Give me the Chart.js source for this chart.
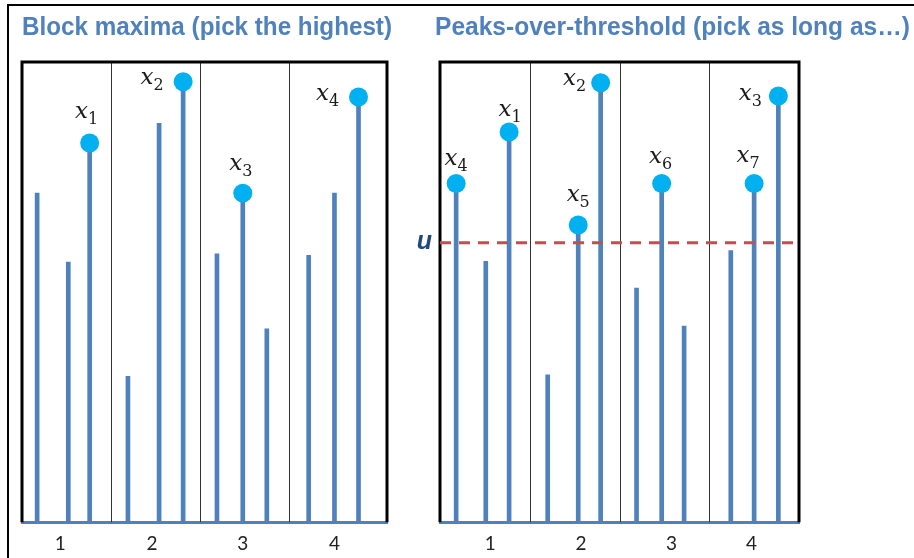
<!DOCTYPE html>
<html>
<head>
<meta charset="utf-8">
<script src="https://cdn.jsdelivr.net/npm/chart.js@4.4.1/dist/chart.umd.min.js"></script>
<style>
  html, body { margin: 0; padding: 0; background: #fff; }
  body { width: 914px; height: 558px; position: relative; overflow: hidden; }
  #frame {
    position: absolute; left: 7px; top: 4px; width: 920px; height: 600px;
    border-top: 2px solid #000; border-left: 2px solid #000;
  }
  .wrap { position: absolute; top: 0; height: 568px; }
  #leftWrap { left: 0; width: 400px; }
  #rightWrap { left: 400px; width: 514px; }
</style>
</head>
<body>
<div id="frame"></div>
<div class="wrap" id="leftWrap"><canvas id="blockChart" width="400" height="568"></canvas></div>
<div class="wrap" id="rightWrap"><canvas id="potChart" width="514" height="568"></canvas></div>
<script>
// Blocks shared by both panels
const blockLabels = ["1", "2", "3", "4"];
const blockEdges = [1, 2, 3];

// Block maxima panel
const bmX = [0.17, 0.52, 0.76, 1.19, 1.54, 1.81, 2.19, 2.48, 2.75, 3.22, 3.51, 3.78];
const bmValues = [71.5, 56.5, 82.4, 31.7, 86.7, 95.7, 58.3, 71.5, 42.0, 58.0, 71.5, 92.4];
const bmPicked = [2, 5, 7, 11];
const bmNames = ["1", "2", "3", "4"];
const bmTickPos = [0.43, 1.46, 2.48, 3.51];

// Peaks-over-threshold panel
const potX = [0.18, 0.51, 0.77, 1.2, 1.54, 1.79, 2.19, 2.47, 2.72, 3.24, 3.5, 3.77];
const potValues = [73.6, 56.7, 84.8, 32.0, 64.6, 95.5, 50.9, 73.6, 42.6, 59.0, 73.6, 92.6];
const potPicked = [0, 2, 4, 5, 7, 10, 11];
const potNames = ["4", "1", "5", "2", "6", "7", "3"];
const potTickPos = [0.56, 1.57, 2.58, 3.47];
const threshold = 60.7;

// label offsets (px) from each picked point
const bmLabelOffsets = [[-3, -28], [-31, -1], [-2, -27], [-31, 0]];
const potLabelOffsets = [[0, -22], [1, -19], [0, -27], [-26, -1], [-1, -24], [-6, -25], [-28, 1]];

const stemBlue = "#4f81bd";
const dotBlue = "#00b0f0";

function drawSubLabel(ctx, cx, cy, sub) {
  ctx.save();
  ctx.fillStyle = "#1a1a1a";
  ctx.textBaseline = "alphabetic";
  ctx.textAlign = "left";
  ctx.font = "italic 23px 'DejaVu Serif'";
  const wx = ctx.measureText("x").width;
  ctx.font = "16px 'DejaVu Serif'";
  const ws = ctx.measureText(sub).width;
  const left = cx - (wx + ws) / 2;
  const base = cy + 3.4;
  ctx.font = "italic 23px 'DejaVu Serif'";
  ctx.fillText("x", left, base);
  ctx.font = "16px 'DejaVu Serif'";
  ctx.fillText(sub, left + wx, base + 6);
  ctx.restore();
}

// panel decorations: frame, block separators, title, point labels
const panelPlugin = {
  id: "panel",
  beforeDatasetsDraw(chart, args, opts) {
    const { ctx, chartArea: a, scales } = chart;
    ctx.save();
    ctx.strokeStyle = "#333";
    ctx.lineWidth = 1;
    blockEdges.forEach((b) => {
      const px = Math.round(scales.x.getPixelForValue(b)) + 0.5;
      ctx.beginPath();
      ctx.moveTo(px, a.top);
      ctx.lineTo(px, a.bottom);
      ctx.stroke();
    });
    ctx.strokeStyle = "#000";
    ctx.lineWidth = 3;
    ctx.beginPath();
    ctx.moveTo(a.left, a.bottom);
    ctx.lineTo(a.left, a.top);
    ctx.lineTo(a.right, a.top);
    ctx.lineTo(a.right, a.bottom);
    ctx.stroke();
    ctx.restore();
  },
  afterDatasetsDraw(chart, args, opts) {
    const { ctx, chartArea: a, scales } = chart;
    // title
    ctx.save();
    ctx.font = "bold 26px 'Liberation Sans'";
    ctx.textBaseline = "alphabetic";
    const w = ctx.measureText(opts.title).width;
    ctx.translate(opts.titleLeft, 35);
    ctx.scale((opts.titleRight - opts.titleLeft) / w, 1);
    ctx.fillStyle = "#4f81bd";
    ctx.fillText(opts.title, 0, 0);
    ctx.restore();
    // point labels
    const meta = chart.getDatasetMeta(1);
    meta.data.forEach((pt, i) => {
      const off = opts.offsets[i];
      drawSubLabel(ctx, pt.x + off[0], pt.y + off[1], opts.names[i]);
    });
    // threshold label
    if (opts.threshold !== undefined) {
      const py = scales.y.getPixelForValue(opts.threshold);
      ctx.save();
      ctx.font = "bold italic 25px 'Liberation Sans'";
      ctx.fillStyle = "#1f497d";
      ctx.textAlign = "right";
      ctx.textBaseline = "middle";
      ctx.fillText("u", a.left - 8, py - 1);
      ctx.restore();
    }
  },
};

function makePanel(canvasId, xs, vals, picked, names, tickPos, xMax, padding, panelOpts, extra) {
  const datasets = [
    {
      type: "bar",
      data: xs.map((x, i) => ({ x: x, y: vals[i] })),
      backgroundColor: stemBlue,
      borderWidth: 0,
      barThickness: 4,
      order: 3,
    },
    {
      type: "line",
      data: picked.map((i) => ({ x: xs[i], y: vals[i] })),
      showLine: false,
      pointRadius: 9.5,
      pointHoverRadius: 9.5,
      pointBackgroundColor: dotBlue,
      pointBorderWidth: 0,
      order: 0,
    },
  ].concat(extra || []);

  return new Chart(document.getElementById(canvasId).getContext("2d"), {
    type: "bar",
    data: { datasets: datasets },
    plugins: [panelPlugin],
    options: {
      responsive: false,
      animation: false,
      devicePixelRatio: 1,
      layout: { padding: padding },
      scales: {
        x: {
          type: "linear",
          min: 0,
          max: xMax,
          offset: false,
          afterBuildTicks: (axis) => {
            axis.ticks = tickPos.map((v) => ({ value: v }));
          },
          grid: { display: false, drawTicks: false },
          border: { display: true, color: stemBlue, width: 3 },
          ticks: {
            autoSkip: false,
            maxRotation: 0,
            padding: 10,
            color: "#222",
            font: { family: "Lato", size: 19 },
            callback: (v, i) => blockLabels[i],
          },
        },
        y: { display: false, min: 0, max: 100 },
      },
      plugins: {
        legend: { display: false },
        tooltip: { enabled: false },
        panel: panelOpts,
      },
    },
  });
}

window.charts = {};

window.charts.blockChart = makePanel(
  "blockChart", bmX, bmValues, bmPicked, bmNames, bmTickPos, 4.1,
  { left: 22, right: 13, top: 62, bottom: 3 },
  {
    title: "Block maxima (pick the highest)",
    titleLeft: 22, titleRight: 392,
    names: bmNames, offsets: bmLabelOffsets,
  }
);

window.charts.potChart = makePanel(
  "potChart", potX, potValues, potPicked, potNames, potTickPos, 4.0,
  { left: 40, right: 115, top: 62, bottom: 3 },
  {
    title: "Peaks-over-threshold (pick as long as\u2026)",
    titleLeft: 35, titleRight: 510,
    names: potNames, offsets: potLabelOffsets,
    threshold: threshold,
  },
  [
    {
      type: "line",
      data: [{ x: 0, y: threshold }, { x: 4.0, y: threshold }],
      borderColor: "#c0504d",
      borderWidth: 3,
      borderDash: [11, 8],
      pointRadius: 0,
      order: 1,
    },
  ]
);
</script>
</body>
</html>
